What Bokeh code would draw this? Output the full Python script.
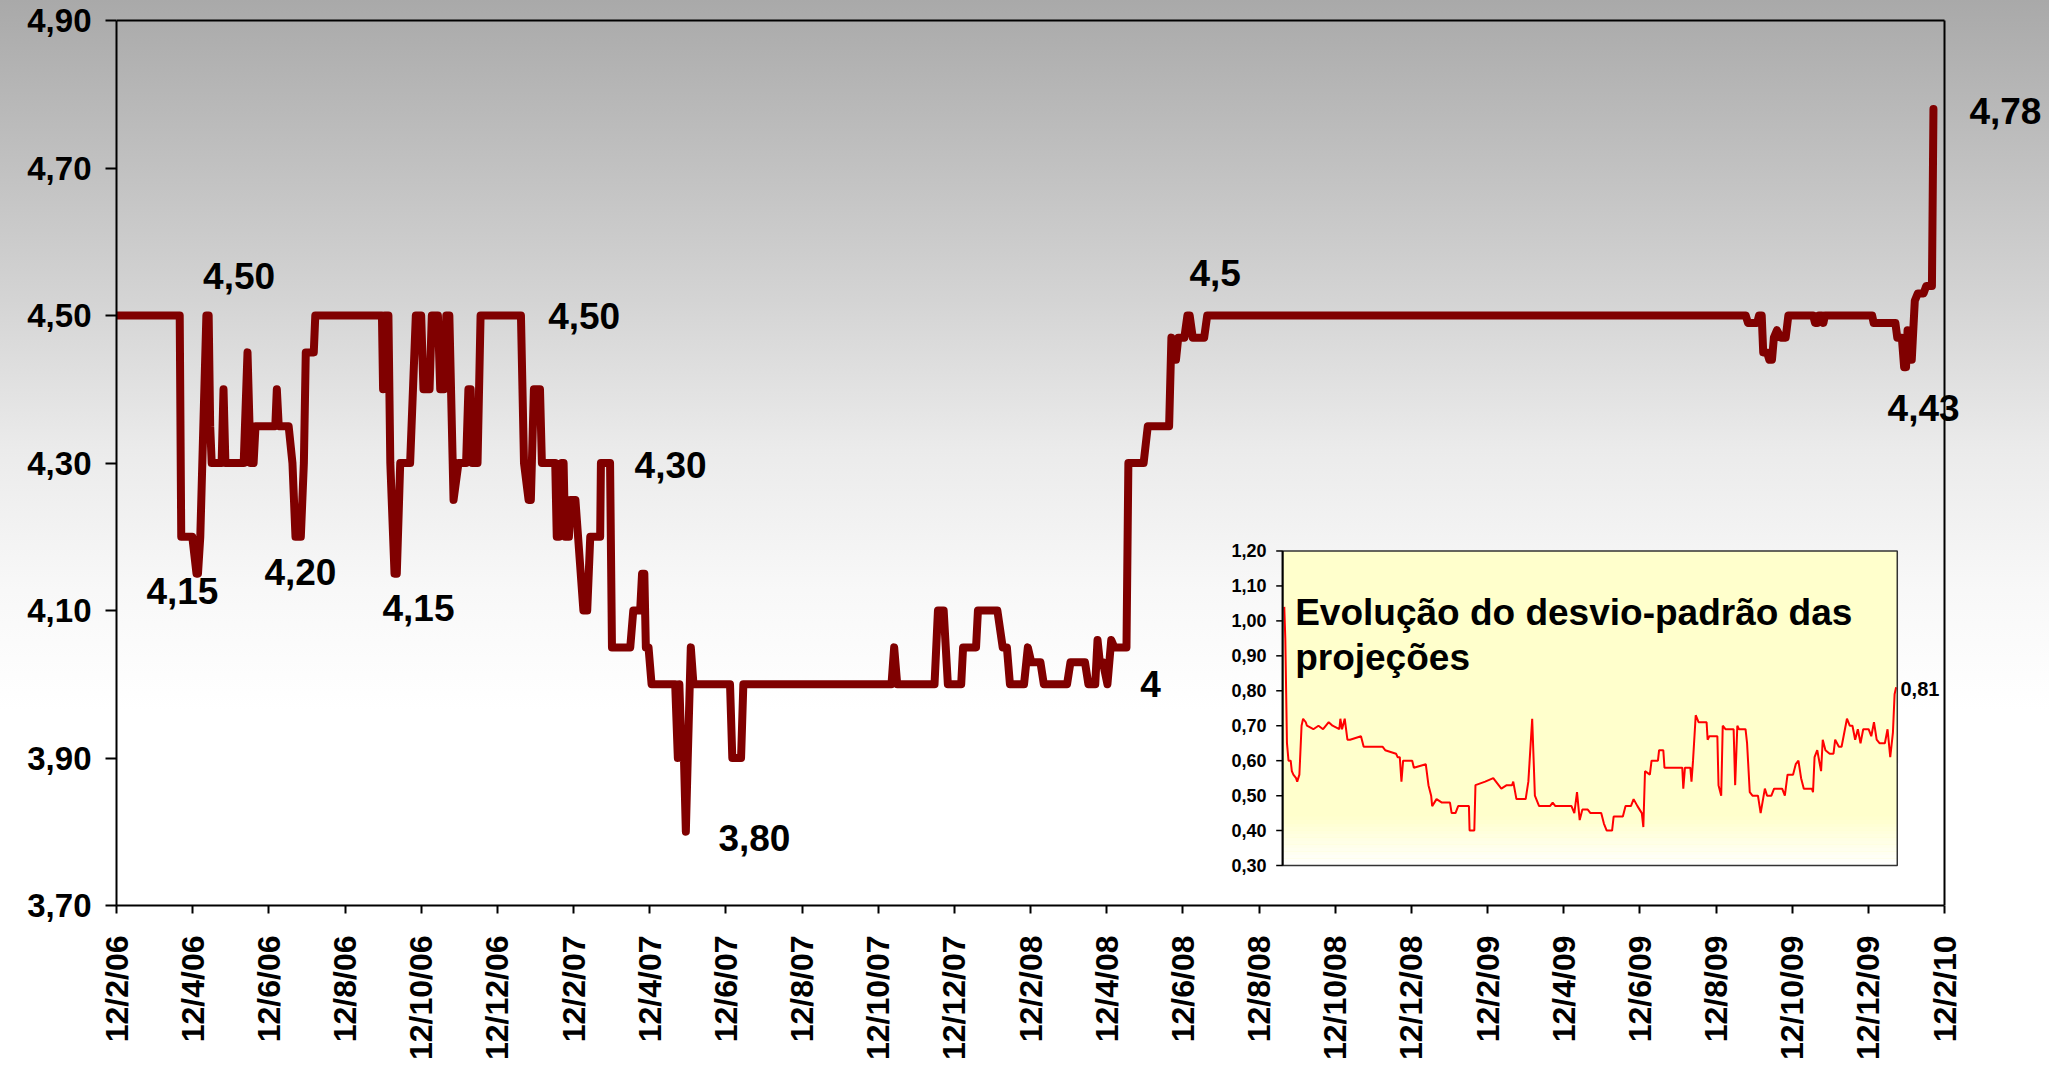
import numpy as np
from bokeh.plotting import figure
from bokeh.models import FixedTicker, Range1d, Label
from bokeh.embed import file_html
from bokeh.resources import INLINE
from bokeh.core.properties import value

FONT = "Liberation Sans"

# ---------------- data ----------------
# time in months elapsed since 12/2/06
x_tick_months = list(range(0, 49, 2))
x_tick_labels = ["12/2/06", "12/4/06", "12/6/06", "12/8/06", "12/10/06", "12/12/06",
                 "12/2/07", "12/4/07", "12/6/07", "12/8/07", "12/10/07", "12/12/07",
                 "12/2/08", "12/4/08", "12/6/08", "12/8/08", "12/10/08", "12/12/08",
                 "12/2/09", "12/4/09", "12/6/09", "12/8/09", "12/10/09", "12/12/09",
                 "12/2/10"]
y_ticks = [3.70, 3.90, 4.10, 4.30, 4.50, 4.70, 4.90]
y_tick_labels = ["3,70", "3,90", "4,10", "4,30", "4,50", "4,70", "4,90"]

proj_month = [0.00, 1.66, 1.70, 1.99, 2.10, 2.14, 2.20, 2.36, 2.42, 2.46, 2.50, 2.76, 2.81, 2.86,
              3.34, 3.44, 3.52, 3.60, 3.65, 4.17, 4.21, 4.26, 4.52, 4.62, 4.70, 4.84, 4.92, 4.97,
              5.18, 5.22, 6.97, 7.00, 7.04, 7.14, 7.19, 7.30, 7.36, 7.45, 7.71, 7.86, 8.00, 8.06,
              8.22, 8.28, 8.44, 8.50, 8.60, 8.66, 8.74, 8.85, 8.98, 9.18, 9.24, 9.30, 9.34, 9.48,
              9.56, 10.62, 10.70, 10.82, 10.88, 10.96, 11.12, 11.17, 11.52, 11.56, 11.62, 11.69,
              11.74, 11.78, 11.88, 11.92, 12.05, 12.26, 12.36, 12.44, 12.70, 12.72, 12.96, 13.01,
              13.49, 13.57, 13.75, 13.80, 13.86, 13.90, 13.97, 14.05, 14.67, 14.74, 14.78, 14.84,
              14.90, 14.95, 15.00, 15.08, 15.15, 16.11, 16.17, 16.40, 16.46, 20.35, 20.42, 20.50,
              21.48, 21.57, 21.72, 21.83, 22.18, 22.23, 22.57, 22.62, 23.13, 23.27, 23.38, 23.46,
              23.83, 23.93, 24.02, 24.26, 24.35, 24.96, 25.05, 25.43, 25.52, 25.70, 25.76, 25.82,
              25.90, 26.02, 26.12, 26.20, 26.52, 26.57, 26.97, 27.08, 27.64, 27.70, 27.74, 27.82,
              27.88, 28.04, 28.12, 28.18, 28.26, 28.56, 28.64, 42.78, 42.84, 43.08, 43.13, 43.20,
              43.24, 43.34, 43.40, 43.47, 43.52, 43.60, 43.70, 43.83, 43.90, 44.55, 44.60, 44.66,
              44.70, 44.78, 44.82, 44.86, 46.10, 46.14, 46.71, 46.76, 46.88, 46.94, 46.99, 47.03,
              47.09, 47.14, 47.22, 47.30, 47.45, 47.52, 47.67, 47.71]
proj_value = [4.50, 4.50, 4.20, 4.20, 4.15, 4.15, 4.20, 4.50, 4.50, 4.35, 4.30, 4.30, 4.40, 4.30,
              4.30, 4.45, 4.30, 4.30, 4.35, 4.35, 4.40, 4.35, 4.35, 4.30, 4.20, 4.20, 4.30, 4.45,
              4.45, 4.50, 4.50, 4.40, 4.50, 4.50, 4.30, 4.15, 4.15, 4.30, 4.30, 4.50, 4.50, 4.40,
              4.40, 4.50, 4.50, 4.40, 4.40, 4.50, 4.50, 4.25, 4.30, 4.30, 4.40, 4.40, 4.30, 4.30,
              4.50, 4.50, 4.30, 4.25, 4.25, 4.40, 4.40, 4.30, 4.30, 4.20, 4.20, 4.30,
              4.30, 4.20, 4.20, 4.25, 4.25, 4.10, 4.10, 4.20, 4.20, 4.30, 4.30, 4.05,
              4.05, 4.10, 4.10, 4.15, 4.15, 4.05, 4.05, 4.00, 4.00, 3.90, 4.00, 3.90,
              3.90, 3.80, 3.90, 4.05, 4.00, 4.00, 3.90, 3.90, 4.00, 4.00, 4.05, 4.00,
              4.00, 4.10, 4.10, 4.00, 4.00, 4.05, 4.05, 4.10, 4.10, 4.05, 4.05, 4.00,
              4.00, 4.05, 4.03, 4.03, 4.00, 4.00, 4.03, 4.03, 4.00, 4.00, 4.06, 4.03,
              4.03, 4.00, 4.06, 4.05, 4.05, 4.30, 4.30, 4.35, 4.35, 4.47, 4.44, 4.44,
              4.47, 4.47, 4.50, 4.50, 4.47, 4.47, 4.50, 4.50, 4.49, 4.49, 4.50, 4.50,
              4.45, 4.45, 4.44, 4.44, 4.47, 4.48, 4.47, 4.47, 4.50, 4.50, 4.49, 4.49,
              4.50, 4.50, 4.49, 4.50, 4.50, 4.49, 4.49, 4.47, 4.47, 4.43, 4.43, 4.48,
              4.44, 4.44, 4.52, 4.53, 4.53, 4.54, 4.54, 4.78]

# annotations of the main chart (text, month, value position)
ann_text = ["4,50", "4,15", "4,20", "4,15", "4,50", "4,30", "3,80", "4", "4,5", "4,43", "4,78"]
ann_month = [3.22, 1.73, 4.83, 7.93, 12.28, 14.55, 16.75, 27.15, 28.85, 47.45, 49.60]
ann_value = [4.553, 4.127, 4.152, 4.103, 4.500, 4.297, 3.792, 4.000, 4.558, 4.374, 4.777]

# inset: standard deviation of the projections
sd_month = [0.13, 0.21, 0.34, 0.46, 0.63, 0.72, 0.84, 1.05, 1.14, 1.31, 1.48, 1.60, 1.81, 1.90,
            2.40, 2.80, 3.16, 3.60, 3.90, 4.43, 4.51, 4.64, 4.85, 5.06, 5.27, 6.12, 6.33, 7.59,
            7.80, 8.01, 8.86, 8.98, 9.15, 9.28, 9.41, 10.12, 10.25, 11.18, 11.39, 11.60, 11.68,
            12.02, 12.44, 13.07, 13.20, 13.50, 13.71, 14.55, 14.60, 14.97, 15.06, 15.82, 16.45,
            17.08, 17.50, 17.92, 18.01, 18.26, 18.98, 19.19, 19.49, 19.70, 20.03, 20.88, 21.09,
            21.30, 22.56, 22.78, 22.99, 23.20, 23.41, 23.83, 24.04, 24.88, 25.09, 25.31, 25.73,
            25.85, 26.57, 26.78, 27.20, 27.41, 27.71, 28.05, 28.17, 28.30, 28.68, 28.81, 29.31,
            29.40, 29.73, 29.82, 31.21, 31.29, 31.42, 31.84, 31.93, 32.05, 32.26, 32.48, 33.11,
            33.19, 33.32, 33.95, 34.04, 34.25, 34.37, 34.58, 35.22, 35.34, 35.51, 35.64, 36.15,
            36.27, 36.48, 36.69, 37.12, 37.33, 37.66, 37.83, 38.17, 38.38, 39.01, 39.22, 39.43,
            39.86, 40.07, 40.28, 40.49, 40.70, 41.33, 41.42, 41.54, 41.75, 42.05, 42.18, 42.39,
            42.72, 43.02, 43.15, 43.44, 43.65, 43.86, 44.07, 44.29, 44.50, 44.71, 44.92, 45.13,
            45.34, 45.76, 45.97, 46.18, 46.39, 46.61, 47.03, 47.24, 47.45, 47.66, 47.79, 47.91]
sd_value = [1.04, 0.95, 0.65, 0.60, 0.60, 0.57, 0.56, 0.55, 0.54, 0.56, 0.70, 0.72, 0.71, 0.70,
            0.69, 0.70, 0.69, 0.71, 0.70, 0.69, 0.72, 0.69, 0.72, 0.66, 0.66, 0.67, 0.64, 0.64,
            0.64, 0.63, 0.62, 0.61, 0.61, 0.54, 0.60, 0.60, 0.58, 0.59, 0.53, 0.50, 0.47,
            0.49, 0.48, 0.48, 0.45, 0.45, 0.47, 0.47, 0.40, 0.40, 0.53, 0.54, 0.55,
            0.52, 0.53, 0.53, 0.54, 0.49, 0.49, 0.54, 0.72, 0.50, 0.47, 0.47, 0.48,
            0.47, 0.47, 0.45, 0.51, 0.43, 0.46, 0.46, 0.45, 0.45, 0.42, 0.40, 0.40,
            0.44, 0.44, 0.47, 0.47, 0.49, 0.47, 0.45, 0.41, 0.57, 0.56, 0.60, 0.60,
            0.63, 0.63, 0.58, 0.58, 0.52, 0.58, 0.58, 0.54, 0.60, 0.73, 0.71, 0.71,
            0.66, 0.67, 0.67, 0.53, 0.50, 0.70, 0.69, 0.69, 0.53, 0.70, 0.69, 0.69,
            0.65, 0.51, 0.50, 0.50, 0.45, 0.52, 0.50, 0.50, 0.52, 0.52, 0.50, 0.56,
            0.56, 0.59, 0.60, 0.55, 0.52, 0.52, 0.51, 0.61, 0.63, 0.57, 0.66, 0.63,
            0.62, 0.62, 0.66, 0.64, 0.64, 0.68, 0.72, 0.70, 0.70, 0.66, 0.69, 0.65,
            0.69, 0.69, 0.67, 0.71, 0.66, 0.65, 0.65, 0.69, 0.61, 0.68, 0.79, 0.81]
sd_ticks = [0.30, 0.40, 0.50, 0.60, 0.70, 0.80, 0.90, 1.00, 1.10, 1.20]
sd_tick_labels = ["0,30", "0,40", "0,50", "0,60", "0,70", "0,80", "0,90", "1,00", "1,10", "1,20"]
sd_title = ["Evolução do desvio-padrão das", "projeções"]
sd_last_label = "0,81"

# ---------------- main figure ----------------
# the frame runs past the right end of the time axis so that the end labels are not clipped
X_END = 48 * 1931 / 1828
Y_END = 4.90 + 18 / 737.5
p = figure(frame_width=1931, frame_height=903,
           x_range=Range1d(0, X_END), y_range=Range1d(3.70, Y_END),
           output_backend="svg", toolbar_location=None,
           min_border_left=116, min_border_right=2, min_border_top=2, min_border_bottom=158)
p.background_fill_color = None
p.border_fill_color = None
p.styles = {"background-image": "linear-gradient(to bottom, #a9a9a9 0px, #d4d4d4 300px, "
                                "#ebebeb 450px, #f8f8f8 590px, #ffffff 710px, #ffffff 100%)"}
p.outline_line_color = None
p.grid.visible = False

p.xaxis.ticker = FixedTicker(ticks=x_tick_months)
p.xaxis.bounds = (x_tick_months[0], x_tick_months[-1])
p.xaxis.major_label_overrides = {m: t for m, t in zip(x_tick_months, x_tick_labels)}
p.xaxis.major_label_orientation = np.pi / 2
p.xaxis.major_tick_out = 8
p.xaxis.major_label_standoff = 22
p.xaxis.major_label_text_font_size = "32px"

p.yaxis.ticker = FixedTicker(ticks=y_ticks)
p.yaxis.bounds = (y_ticks[0], y_ticks[-1])
p.yaxis.major_label_overrides = {v: t for v, t in zip(y_ticks, y_tick_labels)}
p.yaxis.major_tick_out = 11
p.yaxis.major_label_standoff = 14
p.yaxis.major_label_text_font_size = "33px"

for ax in (p.xaxis, p.yaxis):
    ax.major_tick_in = 0
    ax.minor_tick_line_color = None
    ax.axis_line_color = "black"
    ax.axis_line_width = 2
    ax.major_tick_line_color = "black"
    ax.major_tick_line_width = 2
    ax.major_label_text_font = FONT
    ax.major_label_text_font_style = "bold"
    ax.major_label_text_color = "black"

# top and right border of the plot area
p.segment(x0=[x_tick_months[0], x_tick_months[-1]], y0=[y_ticks[-1], y_ticks[0]],
          x1=[x_tick_months[-1], x_tick_months[-1]], y1=[y_ticks[-1], y_ticks[-1]],
          line_color="black", line_width=2)

p.line(proj_month, proj_value, line_color="#800000", line_width=8,
       line_join="round", line_cap="round")

for t, mx, vy in zip(ann_text, ann_month, ann_value):
    p.add_layout(Label(x=mx, y=vy, text=t, text_align="center", text_baseline="middle",
                       text_font=FONT, text_font_style="bold",
                       text_font_size="37px", text_color="black"))

# ---------------- inset (sub-coordinates inside the main frame) ----------------
sub = p.subplot(x_source=Range1d(0, 48), y_source=Range1d(0.30, 1.20),
                x_target=Range1d(30.62, 46.76), y_target=Range1d(3.7542, 4.1807))

sub.quad(left=0, right=48, bottom=0.30, top=1.20, fill_color="#ffffcc", line_color=None)
edges = np.linspace(0.30, 0.44, 15)
cols = []
for i in range(len(edges) - 1):
    f = (i + 0.5) / (len(edges) - 1)
    b = int(round(255 - (255 - 204) * f))
    cols.append("#ffff%02x" % b)
sub.quad(left=0, right=48, bottom=edges[:-1], top=edges[1:], fill_color=cols, line_color=None)

sub.line(sd_month, sd_value, line_color="#ff0000", line_width=2)

sub.quad(left=0, right=48, bottom=0.30, top=1.20, fill_color=None,
         line_color="#333333", line_width=1.5)
sub.segment(x0=0, y0=0.30, x1=0, y1=1.20, line_color="black", line_width=2)
sub.segment(x0=-0.5, y0=sd_ticks, x1=0, y1=sd_ticks, line_color="black", line_width=1.5)
sub.text(x=-1.25, y=sd_ticks, text=sd_tick_labels, text_align="right", text_baseline="middle",
         text_font=value(FONT), text_font_style="bold", text_font_size="18px", text_color="black")
sub.text(x=[0.98, 0.98], y=[1.025, 0.896], text=sd_title, text_align="left",
         text_baseline="alphabetic", text_font=value(FONT), text_font_style="bold",
         text_font_size="37px", text_color="black")
sub.text(x=[48.25], y=[sd_value[-1] - 0.006], text=[sd_last_label], text_align="left",
         text_baseline="middle", text_font=value(FONT), text_font_style="bold",
         text_font_size="20px", text_color="black")

open("out.html", "w").write(file_html(p, INLINE))
